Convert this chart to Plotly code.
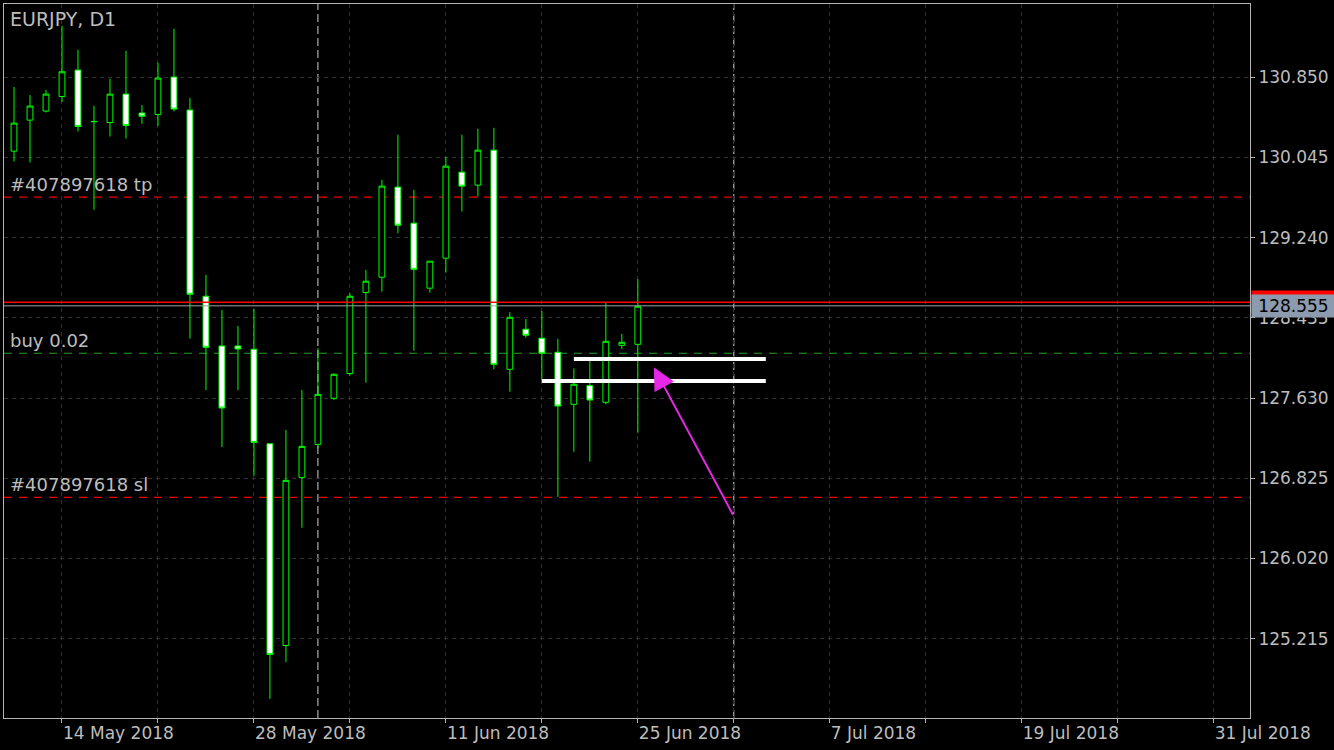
import plotly.graph_objects as go

# EURJPY daily candles (broker with Sunday bars)
dates = [
    "2018-05-10", "2018-05-11", "2018-05-13", "2018-05-14", "2018-05-15", "2018-05-16",
    "2018-05-17", "2018-05-18", "2018-05-20", "2018-05-21", "2018-05-22", "2018-05-23",
    "2018-05-24", "2018-05-25", "2018-05-27", "2018-05-28", "2018-05-29", "2018-05-30",
    "2018-05-31", "2018-06-01", "2018-06-03", "2018-06-04", "2018-06-05", "2018-06-06",
    "2018-06-07", "2018-06-08", "2018-06-10", "2018-06-11", "2018-06-12", "2018-06-13",
    "2018-06-14", "2018-06-15", "2018-06-17", "2018-06-18", "2018-06-19", "2018-06-20",
    "2018-06-21", "2018-06-22", "2018-06-24", "2018-06-25",
]
opens = [
    130.107, 130.418, 130.509, 130.655, 130.920, 130.405, 130.394, 130.679, 130.489, 130.475,
    130.850, 130.519, 128.651, 128.152, 128.152, 128.119, 127.171, 125.147, 126.834, 127.165,
    127.627, 127.876, 128.689, 128.842, 129.746, 129.384, 128.732, 129.033, 129.896, 129.766,
    130.117, 127.918, 128.320, 128.230, 128.089, 127.567, 127.754, 127.587, 128.159, 128.169,
]
highs = [
    130.750, 130.669, 130.722, 131.365, 131.124, 130.562, 130.833, 131.114, 130.569, 130.994,
    131.335, 130.639, 128.865, 128.514, 128.353, 128.524, 127.171, 127.309, 127.710, 128.129,
    127.878, 128.681, 128.915, 129.819, 130.271, 129.718, 129.003, 130.050, 130.271, 130.331,
    130.341, 128.491, 128.423, 128.504, 128.223, 127.928, 128.002, 128.594, 128.273, 128.822,
]
lows = [
    130.003, 129.993, 130.495, 130.599, 130.304, 129.518, 130.254, 130.234, 130.381, 130.361,
    130.505, 128.226, 127.710, 127.138, 127.710, 126.850, 124.611, 124.982, 126.328, 127.125,
    127.610, 127.854, 127.784, 128.697, 129.284, 128.105, 128.687, 128.888, 129.501, 129.651,
    127.918, 127.693, 128.236, 127.811, 126.639, 127.091, 126.991, 127.567, 128.125, 127.282,
]
closes = [
    130.388, 130.559, 130.679, 130.903, 130.354, 130.403, 130.679, 130.364, 130.458, 130.840,
    130.529, 128.671, 128.139, 127.530, 128.122, 127.185, 125.057, 126.804, 127.145, 127.667,
    127.868, 128.651, 128.802, 129.756, 129.364, 128.922, 129.003, 129.956, 129.756, 130.117,
    127.968, 128.440, 128.260, 128.079, 127.550, 127.768, 127.610, 128.199, 128.189, 128.551,
]

price_ticks = [125.215, 126.020, 126.825, 127.630, 128.435, 129.240, 130.045, 130.850]
date_ticks = [3, 9, 15, 21, 27, 33, 39, 45, 51, 57, 63, 69, 75]
date_labels = ["14 May 2018", "", "28 May 2018", "", "11 Jun 2018", "", "25 Jun 2018",
               "", "7 Jul 2018", "", "19 Jul 2018", "", "31 Jul 2018"]
month_separators = [19, 45]

order_prices = [129.645, 128.079, 126.633]
order_labels = ["#407897618 tp", "buy 0.02", "#407897618 sl"]
order_colors = ["#f00000", "#22a022", "#f00000"]

bid = 128.555
ask = 128.592

level_prices = [128.022, 127.801]
level_start = [35, 33]
level_end = [47, 47]

arrow_tail = (45, 126.444)
arrow_tip = (40, 127.938)

TEXT = "#bdbdbd"
FRAME = "#b4b4b4"
FONT = "DejaVu Sans"

x = list(range(len(opens)))

fig = go.Figure(go.Candlestick(
    x=x,
    open=opens,
    high=highs,
    low=lows,
    close=closes,
    increasing={"line": {"color": "#00ff00", "width": 1}, "fillcolor": "#000000"},
    decreasing={"line": {"color": "#00ff00", "width": 1}, "fillcolor": "#ffffff"},
    whiskerwidth=0,
    hoverinfo="skip",
    showlegend=False,
))

shapes = []
# month separators
for pos in month_separators:
    shapes.append({
        "type": "line", "xref": "x", "yref": "paper",
        "x0": pos, "x1": pos, "y0": 0, "y1": 1,
        "line": {"color": "#d0d0d0", "width": 1, "dash": "8px,4px"},
        "layer": "below",
    })
# order lines
for price, color in zip(order_prices, order_colors):
    shapes.append({
        "type": "line", "xref": "paper", "yref": "y",
        "x0": 0, "x1": 1, "y0": price, "y1": price,
        "line": {"color": color, "width": 1.2, "dash": "8px,7px"},
        "layer": "below",
    })
# ask / bid lines
shapes.append({
    "type": "line", "xref": "paper", "yref": "y",
    "x0": 0, "x1": 1, "y0": ask, "y1": ask,
    "line": {"color": "#ff0000", "width": 1.5},
})
shapes.append({
    "type": "line", "xref": "paper", "yref": "y",
    "x0": 0, "x1": 1, "y0": bid, "y1": bid,
    "line": {"color": "#9aa0a8", "width": 1},
})
# user drawn horizontal levels
for price, x0, x1 in zip(level_prices, level_start, level_end):
    shapes.append({
        "type": "line", "xref": "x", "yref": "y",
        "x0": x0, "x1": x1, "y0": price, "y1": price,
        "line": {"color": "#ffffff", "width": 4},
    })

annotations = [
    {
        "text": "EURJPY, D1", "xref": "paper", "yref": "paper",
        "x": 0, "y": 1, "xanchor": "left", "yanchor": "top",
        "xshift": 4, "yshift": -2, "showarrow": False,
        "font": {"family": FONT, "size": 19, "color": TEXT},
    },
]
for price, label in zip(order_prices, order_labels):
    annotations.append({
        "text": label, "xref": "paper", "yref": "y",
        "x": 0, "y": price, "xanchor": "left", "yanchor": "bottom",
        "xshift": 4, "yshift": 0, "showarrow": False,
        "font": {"family": FONT, "size": 18, "color": TEXT},
    })
# ask label (mostly hidden) and bid label on the price scale
annotations.append({
    "text": f"{ask:.3f}", "xref": "paper", "yref": "y",
    "x": 1, "y": ask, "xanchor": "left", "yanchor": "middle",
    "xshift": 1, "showarrow": False, "bgcolor": "#ff0000",
    "width": 79, "height": 18, "borderpad": 2,
    "font": {"family": FONT, "size": 17, "color": "#ff0000"},
})
annotations.append({
    "text": f"{bid:.3f}", "xref": "paper", "yref": "y",
    "x": 1, "y": bid, "xanchor": "left", "yanchor": "middle",
    "xshift": 1, "showarrow": False, "bgcolor": "#8c9bad",
    "width": 79, "height": 18, "borderpad": 2,
    "font": {"family": FONT, "size": 17, "color": "#000000"},
})
# magenta arrow
annotations.append({
    "text": "", "x": arrow_tip[0], "y": arrow_tip[1],
    "ax": arrow_tail[0], "ay": arrow_tail[1], "axref": "x", "ayref": "y",
    "xref": "x", "yref": "y", "showarrow": True,
    "arrowhead": 2, "arrowsize": 2.2, "arrowwidth": 2, "arrowcolor": "#e628e6",
    "standoff": 0,
})

fig.update_layout(
    width=1334,
    height=750,
    margin={"l": 4, "r": 84, "t": 4, "b": 32, "autoexpand": False},
    paper_bgcolor="#000000",
    plot_bgcolor="#000000",
    boxgap=0.48,
    shapes=shapes,
    annotations=annotations,
    font={"family": FONT, "size": 17, "color": TEXT},
    xaxis={
        "range": [-0.625, 77.27],
        "automargin": False,
        "rangeslider": {"visible": False},
        "tickvals": date_ticks,
        "ticktext": date_labels,
        "ticklabelposition": "outside right",
        "ticks": "outside", "ticklen": 4, "tickcolor": FRAME,
        "showline": True, "mirror": True, "linecolor": FRAME, "linewidth": 1,
        "showgrid": True, "gridcolor": "#303030", "griddash": "4px,4px", "gridwidth": 1,
        "zeroline": False,
        "tickfont": {"family": FONT, "size": 17, "color": TEXT},
    },
    yaxis={
        "range": [124.420, 131.583],
        "automargin": False,
        "side": "right",
        "tickvals": price_ticks,
        "tickformat": ".3f",
        "ticks": "outside", "ticklen": 4, "tickcolor": FRAME,
        "showline": True, "mirror": True, "linecolor": FRAME, "linewidth": 1,
        "showgrid": True, "gridcolor": "#303030", "griddash": "4px,4px", "gridwidth": 1,
        "zeroline": False,
        "tickfont": {"family": FONT, "size": 17, "color": TEXT},
    },
)

# drop the browser's default body margin so the figure sits at the page corner
fig.write_html(
    "out.html",
    config={"displayModeBar": False},
    post_script="document.body.style.margin='0';document.body.style.overflow='hidden';",
)
